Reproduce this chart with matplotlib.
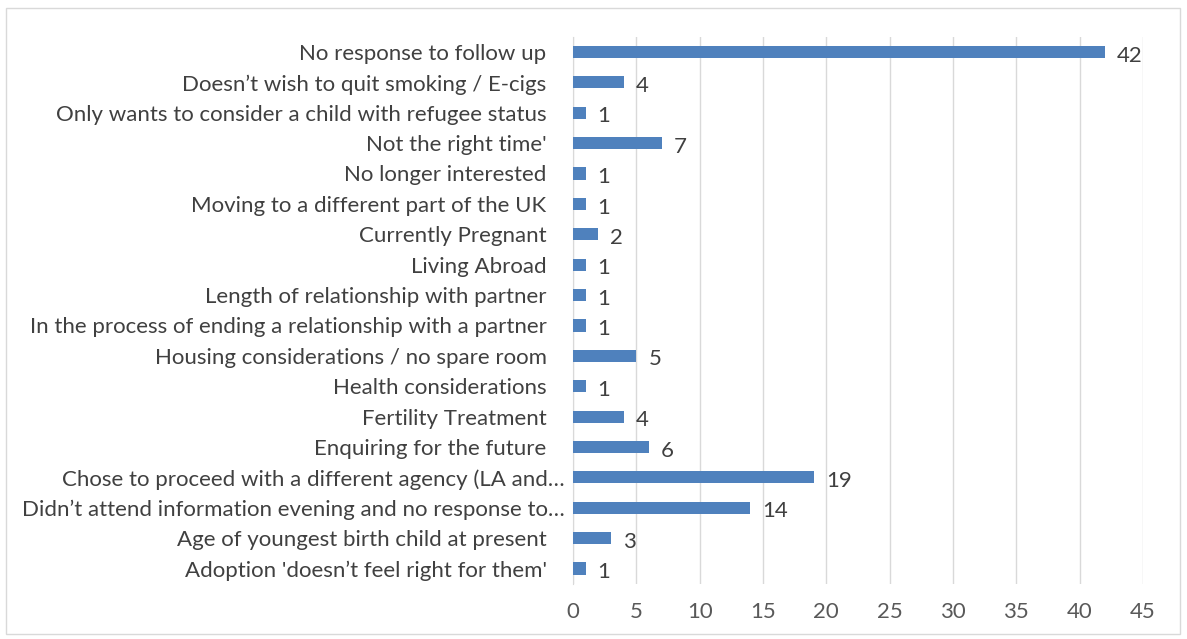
import matplotlib.pyplot as plt
import matplotlib.transforms as mtransforms
from matplotlib.patches import Rectangle

plt.rcParams['font.family'] = ['Lato', 'DejaVu Sans']

reasons = [
    "No response to follow up",
    "Doesn\u2019t wish to quit smoking / E-cigs",
    "Only wants to consider a child with refugee status",
    "Not the right time'",
    "No longer interested",
    "Moving to a different part of the UK",
    "Currently Pregnant",
    "Living Abroad",
    "Length of relationship with partner",
    "In the process of ending a relationship with a partner",
    "Housing considerations / no spare room",
    "Health considerations",
    "Fertility Treatment",
    "Enquiring for the future",
    "Chose to proceed with a different agency (LA and\u2026",
    "Didn\u2019t attend information evening and no response to\u2026",
    "Age of youngest birth child at present",
    "Adoption 'doesn\u2019t feel right for them'",
]
counts = [42, 4, 1, 7, 1, 1, 2, 1, 1, 1, 5, 1, 4, 6, 19, 14, 3, 1]
ticks = [0, 5, 10, 15, 20, 25, 30, 35, 40, 45]

fig = plt.figure(figsize=(11.87, 6.39), dpi=100)
ax = fig.add_axes([0.4827, 0.0865, 0.4803, 0.856])

ypos = list(range(len(reasons)))
ax.barh(ypos, counts, height=0.4, color='#4F81BD', zorder=3)
for y, v in zip(ypos, counts):
    ax.text(v + 0.95, y + 0.12, str(v), va='center', ha='left', fontsize=16, color='#404040')

ax.set_yticks(ypos)
ax.set_yticklabels(reasons, fontsize=16, color='#404040')
ax.set_ylim(len(reasons) - 0.5, -0.5)
ax.set_xlim(0, 45)
ax.set_xticks(ticks)
ax.set_xticklabels([str(t) for t in ticks], fontsize=16, color='#595959')
ax.tick_params(axis='both', length=0)
ax.tick_params(axis='y', pad=19)
ax.tick_params(axis='x', pad=13)
ax.grid(axis='x', color='#D9D9D9', linewidth=1, zorder=0)
for s in ['top', 'right', 'bottom']:
    ax.spines[s].set_visible(False)
ax.spines['left'].set_color('#D9D9D9')

# truncated labels sit closer to the axis
shift = mtransforms.ScaledTranslation(18 / 100, 0, fig.dpi_scale_trans)
for lab in ax.get_yticklabels():
    if lab.get_text().endswith('\u2026'):
        lab.set_transform(lab.get_transform() + shift)

fig.patches.append(Rectangle((0.005, 0.008), 0.989, 0.98, transform=fig.transFigure,
                             fill=False, edgecolor='#D9D9D9', linewidth=1))

fig.savefig('out.png', dpi=100)
